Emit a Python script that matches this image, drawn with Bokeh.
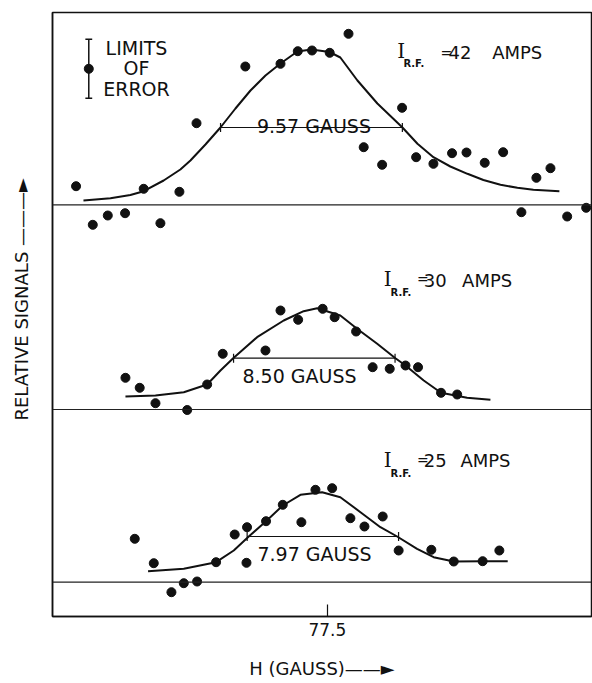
from bokeh.plotting import figure
from bokeh.models import Span, FixedTicker
from bokeh.core.properties import value
from bokeh.embed import file_html
from bokeh.resources import INLINE

# ---------------- data ----------------
currents = ["42", "30", "25"]                 # I_R.F. in amps
fwhm = [9.57, 8.50, 7.97]                     # gauss
fwhm_labels = ["9.57 GAUSS", "8.50 GAUSS", "7.97 GAUSS"]
fwhm_center = [76.66, 76.81, 77.26]           # gauss
half_height = [7.73, 5.13, 4.57]              # relative signal at half maximum
x_tick = [77.5]
err_half = 2.95                               # "limits of error" half length

# panel 1 (42 A) measured points
d1_x = [64.27, 65.15, 65.94, 66.85, 67.83, 68.71, 69.71, 70.61, 73.18, 75.03, 75.94, 76.69, 77.62, 78.61,
        79.41, 80.38, 81.43, 82.17, 83.08, 84.06, 84.82, 85.78, 86.75, 87.71, 88.50, 89.24, 90.12, 91.12]
d1_s = [1.86, -2.00, -1.07, -0.84, 1.60, -1.84, 1.30, 8.16, 13.83, 14.10, 15.36, 15.43, 15.20, 17.10,
        5.76, 4.00, 9.70, 4.76, 4.10, 5.16, 5.23, 4.20, 5.26, -0.74, 2.70, 3.66, -1.17, -0.30]
# panel 1 fitted curve
c1_x = [64.66, 66.08, 67.13, 67.83, 68.88, 69.76, 70.29, 71.08, 71.87, 72.66, 73.45, 74.24, 75.03, 75.92, 76.66,
        77.61, 78.18, 79.08, 80.13, 81.45, 82.24, 83.08, 83.97, 84.87, 85.71, 86.61, 87.50, 88.34, 89.71]
c1_s = [0.43, 0.66, 0.98, 1.36, 2.43, 3.53, 4.43, 6.03, 7.73, 9.63, 11.43, 12.93, 14.13, 15.33, 15.53,
        15.28, 14.73, 12.43, 10.13, 7.73, 6.10, 4.76, 3.83, 3.10, 2.48, 2.00, 1.70, 1.50, 1.36]

# panel 2 (30 A)
d2_x = [66.87, 67.62, 68.45, 70.12, 71.17, 71.99, 74.24, 75.03, 75.96, 77.25, 77.88, 79.01, 79.88, 80.78,
        81.61, 82.27, 83.48, 84.33]
d2_s = [3.17, 2.17, 0.63, -0.05, 2.50, 5.57, 5.90, 9.90, 8.97, 10.07, 9.23, 7.80, 4.23, 4.07,
        4.40, 4.23, 1.67, 1.50]
c2_x = [66.87, 68.45, 69.94, 71.17, 71.87, 72.54, 73.80, 75.20, 76.25, 76.96, 78.18, 79.06, 80.12, 81.08,
        81.61, 82.57, 83.48, 84.85, 86.08]
c2_s = [1.30, 1.40, 1.73, 2.50, 3.90, 5.13, 7.23, 8.90, 9.83, 10.13, 9.40, 8.07, 6.57, 5.13,
        4.40, 2.90, 1.67, 1.17, 0.97]

# panel 3 (25 A)
d3_x = [67.36, 68.36, 69.29, 69.94, 70.64, 71.64, 72.62, 73.27, 73.24, 74.27, 75.15, 76.13, 76.87, 77.75,
        78.71, 79.45, 80.41, 81.25, 82.97, 84.15, 85.67, 86.55]
d3_s = [4.34, 1.90, -1.00, -0.10, 0.07, 2.00, 4.77, 5.50, 1.94, 6.10, 7.74, 6.00, 9.24, 9.40,
        6.40, 5.57, 6.57, 3.17, 3.24, 2.07, 2.10, 3.17]
c3_x = [68.06, 69.94, 71.64, 72.57, 73.36, 74.27, 75.15, 76.08, 77.22, 78.18, 79.24, 80.29, 81.17, 82.22,
        83.09, 84.15, 85.67, 86.99]
c3_s = [1.10, 1.34, 2.00, 3.17, 4.57, 6.10, 7.67, 8.74, 9.00, 8.50, 7.00, 5.50, 4.57, 3.34,
        2.50, 2.07, 2.10, 2.10]

# ---------------- layout ----------------
FONT = "DejaVu Sans"
INK = "#111111"
offsets = [41.17, 20.70, 3.43]          # vertical position of each panel's zero line

p = figure(width=592, height=683, x_range=(63.03, 91.40), y_range=(0, 60.4),
           output_backend="svg", toolbar_location=None,
           min_border_left=52, min_border_right=1, min_border_top=12, min_border_bottom=67)
p.xgrid.visible = False
p.ygrid.visible = False
p.background_fill_color = "white"
p.border_fill_color = "white"
p.outline_line_color = INK
p.outline_line_width = 1.5

# x axis
xa = p.xaxis[0]
xa.ticker = FixedTicker(ticks=x_tick)
xa.major_label_overrides = {77.5: "77.5"}
xa.major_tick_in = 12
xa.major_tick_out = 0
xa.minor_tick_line_color = None
xa.major_tick_line_color = INK
xa.major_tick_line_width = 1.2
xa.axis_line_color = INK
xa.axis_line_width = 1.5
xa.major_label_text_font = FONT
xa.major_label_text_font_size = "17px"
xa.major_label_text_color = INK
xa.major_label_standoff = 6
xa.axis_label = "H (GAUSS)\u2014\u2014\u25BA"
xa.axis_label_text_font = FONT
xa.axis_label_text_font_size = "18px"
xa.axis_label_text_font_style = "normal"
xa.axis_label_text_color = INK
xa.axis_label_standoff = 19

# y axis
ya = p.yaxis[0]
ya.ticker = FixedTicker(ticks=[])
ya.major_tick_line_color = None
ya.minor_tick_line_color = None
ya.major_label_standoff = 0
ya.axis_line_color = INK
ya.axis_line_width = 1.5
ya.axis_label = "\u2003\u2003RELATIVE  SIGNALS \u2014\u2014\u2014\u25BA"
ya.axis_label_text_font = FONT
ya.axis_label_text_font_size = "18px"
ya.axis_label_text_font_style = "normal"
ya.axis_label_text_color = INK
ya.axis_label_standoff = 21

panels = [(d1_x, d1_s, c1_x, c1_s), (d2_x, d2_s, c2_x, c2_s), (d3_x, d3_s, c3_x, c3_s)]
for i, (dx, ds, cx, cs) in enumerate(panels):
    off = offsets[i]
    p.add_layout(Span(location=off, dimension="width", line_color="#222222", line_width=1.2))
    p.line(cx, [v + off for v in cs], line_color=INK, line_width=2, line_join="round")
    p.scatter(dx, [v + off for v in ds], size=9, marker="circle", fill_color=INK, line_color=INK)
    # half-width bar
    xl = fwhm_center[i] - fwhm[i] / 2
    xr = fwhm_center[i] + fwhm[i] / 2
    yh = half_height[i] + off
    p.segment([xl], [yh], [xr], [yh], line_color=INK, line_width=1.2)
    p.segment([xl, xr], [yh - 0.45, yh - 0.45], [xl, xr], [yh + 0.45, yh + 0.45],
              line_color=INK, line_width=1.2)

# half-width labels
p.text(x=[76.79], y=[49.1], text=[fwhm_labels[0]], text_font=value(FONT), text_font_size="19px",
       text_align="center", text_baseline="alphabetic", text_color=INK)
p.text(x=[76.03, 76.82], y=[24.1, 6.3], text=fwhm_labels[1:], text_font=value(FONT), text_font_size="19px",
       text_align="center", text_baseline="alphabetic", text_color=INK)

# current labels  I_R.F. = xx AMPS
i_x = [81.18, 80.46, 80.46]
i_y = [56.55, 33.77, 15.65]
rf_x = [81.50, 80.82, 80.82]
rf_y = [55.30, 32.43, 14.30]
eq_x = [83.45, 82.22, 82.22]
eq_y = [56.40, 33.75, 15.65]
num_x = [83.87, 82.57, 82.57]
num_y = [56.40, 33.60, 15.60]
amps_x = [86.17, 84.59, 84.50]
p.text(x=i_x, y=i_y, text=["I"] * 3, text_font=value("DejaVu Serif"), text_font_size="20px",
       text_align="left", text_baseline="middle", text_color=INK)
p.text(x=rf_x, y=rf_y, text=["R.F."] * 3, text_font=value(FONT), text_font_size="10px",
       text_font_style="bold", text_align="left", text_baseline="middle", text_color=INK)
p.text(x=eq_x, y=eq_y, text=["="] * 3, text_font=value(FONT), text_font_size="14px",
       text_align="left", text_baseline="middle", text_color=INK)
p.text(x=num_x, y=num_y, text=currents, text_font=value(FONT), text_font_size="18px",
       text_align="left", text_baseline="middle", text_color=INK)
p.text(x=amps_x, y=num_y, text=["AMPS"] * 3, text_font=value(FONT), text_font_size="18px",
       text_align="left", text_baseline="middle", text_color=INK)

# limits-of-error key
key_x, key_y = 64.94, 54.77
p.segment([key_x], [key_y - err_half], [key_x], [key_y + err_half], line_color=INK, line_width=1.5)
p.segment([key_x - 0.18, key_x - 0.18], [key_y - err_half, key_y + err_half],
          [key_x + 0.18, key_x + 0.18], [key_y - err_half, key_y + err_half],
          line_color=INK, line_width=1.5)
p.scatter([key_x], [key_y], size=9, fill_color=INK, line_color=INK)
p.text(x=[67.45, 67.45, 67.45], y=[56.85, 54.85, 52.80], text=["LIMITS", "OF", "ERROR"],
       text_font=value(FONT), text_font_size="19px", text_align="center", text_baseline="middle",
       text_color=INK)

open("out.html", "w").write(file_html(p, INLINE))
